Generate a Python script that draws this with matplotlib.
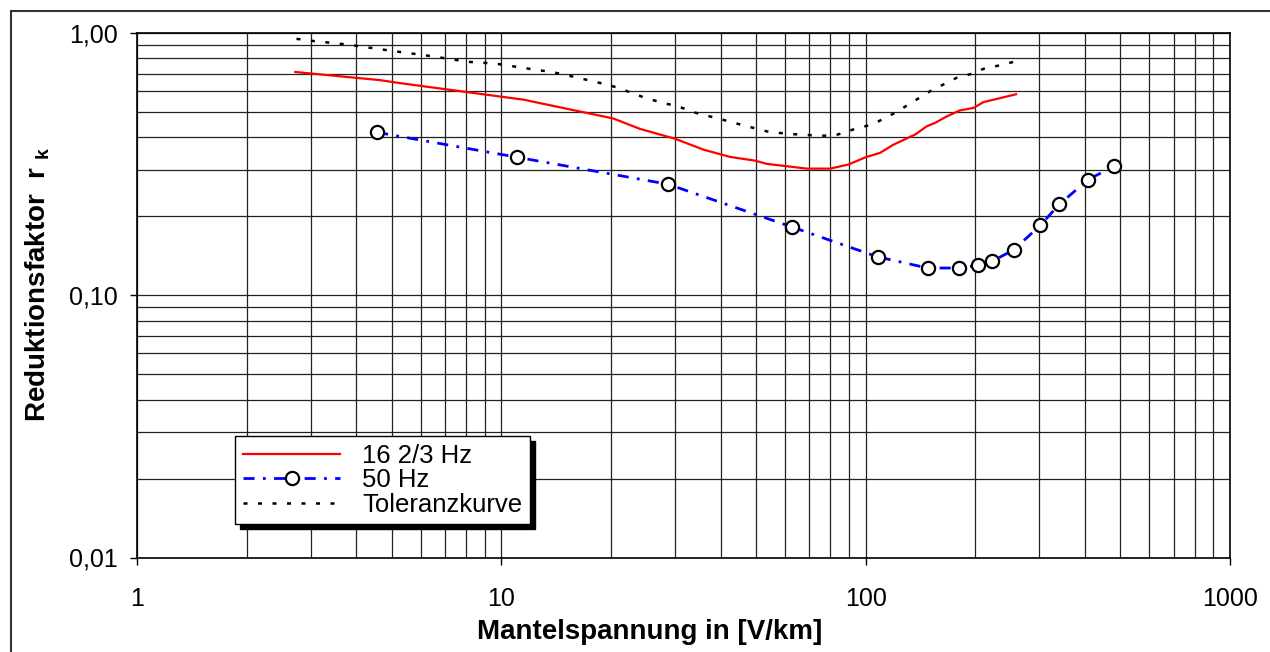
import matplotlib
matplotlib.use("Agg")
import matplotlib.pyplot as plt
from matplotlib.patches import Rectangle

plt.rcParams['font.family'] = ['Liberation Sans', 'DejaVu Sans']
plt.rcParams['mathtext.fontset'] = 'custom'
plt.rcParams['mathtext.rm'] = 'Liberation Sans'
plt.rcParams['mathtext.bf'] = 'Liberation Sans:bold'

# 16 2/3 Hz
red_x = [2.72, 4.65, 5.27, 11.5, 20.3, 24.0, 30.0, 35.9, 42.4, 49.7, 53.5, 68.9, 79.8,
         89.6, 100, 109.5, 119.1, 136.7, 147.2, 155, 167, 181.6, 197.6, 210.5, 258.7]
red_y = [0.710, 0.661, 0.644, 0.557, 0.472, 0.431, 0.395, 0.359, 0.337, 0.326, 0.317, 0.304, 0.304,
         0.315, 0.336, 0.349, 0.375, 0.410, 0.441, 0.454, 0.481, 0.507, 0.518, 0.545, 0.584]

# 50 Hz
blue_x = [4.56, 11.04, 28.7, 62.8, 108, 148, 180.8, 203.8, 222.8, 255, 301.8, 340, 407.8, 481.6]
blue_y = [0.418, 0.336, 0.265, 0.182, 0.140, 0.127, 0.127, 0.130, 0.135, 0.149, 0.185, 0.222, 0.276, 0.311]

# Toleranzkurve
tol_x = [2.74, 3.01, 3.61, 3.94, 5.16, 6.11, 7.31, 8.03, 9.6, 11.5, 13.9, 15.8, 18.9, 20.7, 24.8,
         27.8, 30.6, 33.65, 40.3, 44.7, 54.1, 62.0, 75, 82, 95.5, 104, 120.4, 150.3, 177.8, 195.6,
         210.5, 231.3, 258.7]
tol_y = [0.950, 0.934, 0.91, 0.896, 0.85, 0.824, 0.794, 0.777, 0.765, 0.736, 0.708, 0.681, 0.642,
         0.621, 0.566, 0.541, 0.525, 0.499, 0.468, 0.450, 0.420, 0.412, 0.406, 0.406, 0.435, 0.447,
         0.496, 0.600, 0.675, 0.699, 0.730, 0.751, 0.780]

x_ticks = [1, 10, 100, 1000]
x_labels = ['1', '10', '100', '1000']
y_ticks = [0.01, 0.1, 1.0]
y_labels = ['0,01', '0,10', '1,00']

fig = plt.figure(figsize=(12.7, 6.52), dpi=100)
fig.patches.append(Rectangle((11 / 1270, -0.2), 1.2, 0.2 + 1 - 10.5 / 652, transform=fig.transFigure,
                             fill=False, edgecolor='#333333', lw=1.5))
ax = fig.add_axes([137 / 1270, 1 - 557.5 / 652, 1093 / 1270, 524.5 / 652])

ax.plot(red_x, red_y, color='red', lw=1.6, label='16 2/3 Hz', zorder=3)
ax.plot(blue_x, blue_y, color='blue', lw=2, linestyle=(0, (4, 3, 1, 3)), marker='o', ms=9.5,
        mfc='white', mec='black', mew=1.6, label='50 Hz', zorder=4)
ax.plot(tol_x, tol_y, color='black', lw=1.8, linestyle=(0, (1.6, 4.2)), label='Toleranzkurve', zorder=3)

ax.set_xscale('log')
ax.set_yscale('log')
ax.set_xlim(1, 1000)
ax.set_ylim(0.01, 1.0)
ax.set_xticks(x_ticks, x_labels)
ax.set_yticks(y_ticks, y_labels)
ax.grid(True, which='both', color='#222222', lw=0.9)
ax.tick_params(which='major', direction='out', length=5, width=1, labelsize=18)
ax.tick_params(axis='x', pad=16)
ax.tick_params(axis='y', pad=9)
ax.tick_params(which='minor', length=0)
for s in ax.spines.values():
    s.set_linewidth(1.2)
    s.set_color('black')

ax.set_xlabel('Mantelspannung in [V/km]', fontsize=20, fontweight='bold')
ax.set_ylabel(r'Reduktionsfaktor  $\mathbf{r}$ $_{\mathbf{k}}$', fontsize=20, fontweight='bold')
ax.xaxis.set_label_coords(0.469, -0.117)
ax.yaxis.set_label_coords(-0.078, 0.52)

leg = ax.legend(loc='lower left', bbox_to_anchor=(0.0897, 0.063), fontsize=18.5, fancybox=False,
                edgecolor='black', framealpha=1, borderpad=0.3, labelspacing=0.02, handlelength=3.8,
                handletextpad=0.85, borderaxespad=0,
                shadow={'ox': 3.5, 'oy': -3.5, 'facecolor': 'black', 'edgecolor': 'black', 'alpha': 1})
leg.get_frame().set_linewidth(1)

fig.savefig('out.png', dpi=100)
